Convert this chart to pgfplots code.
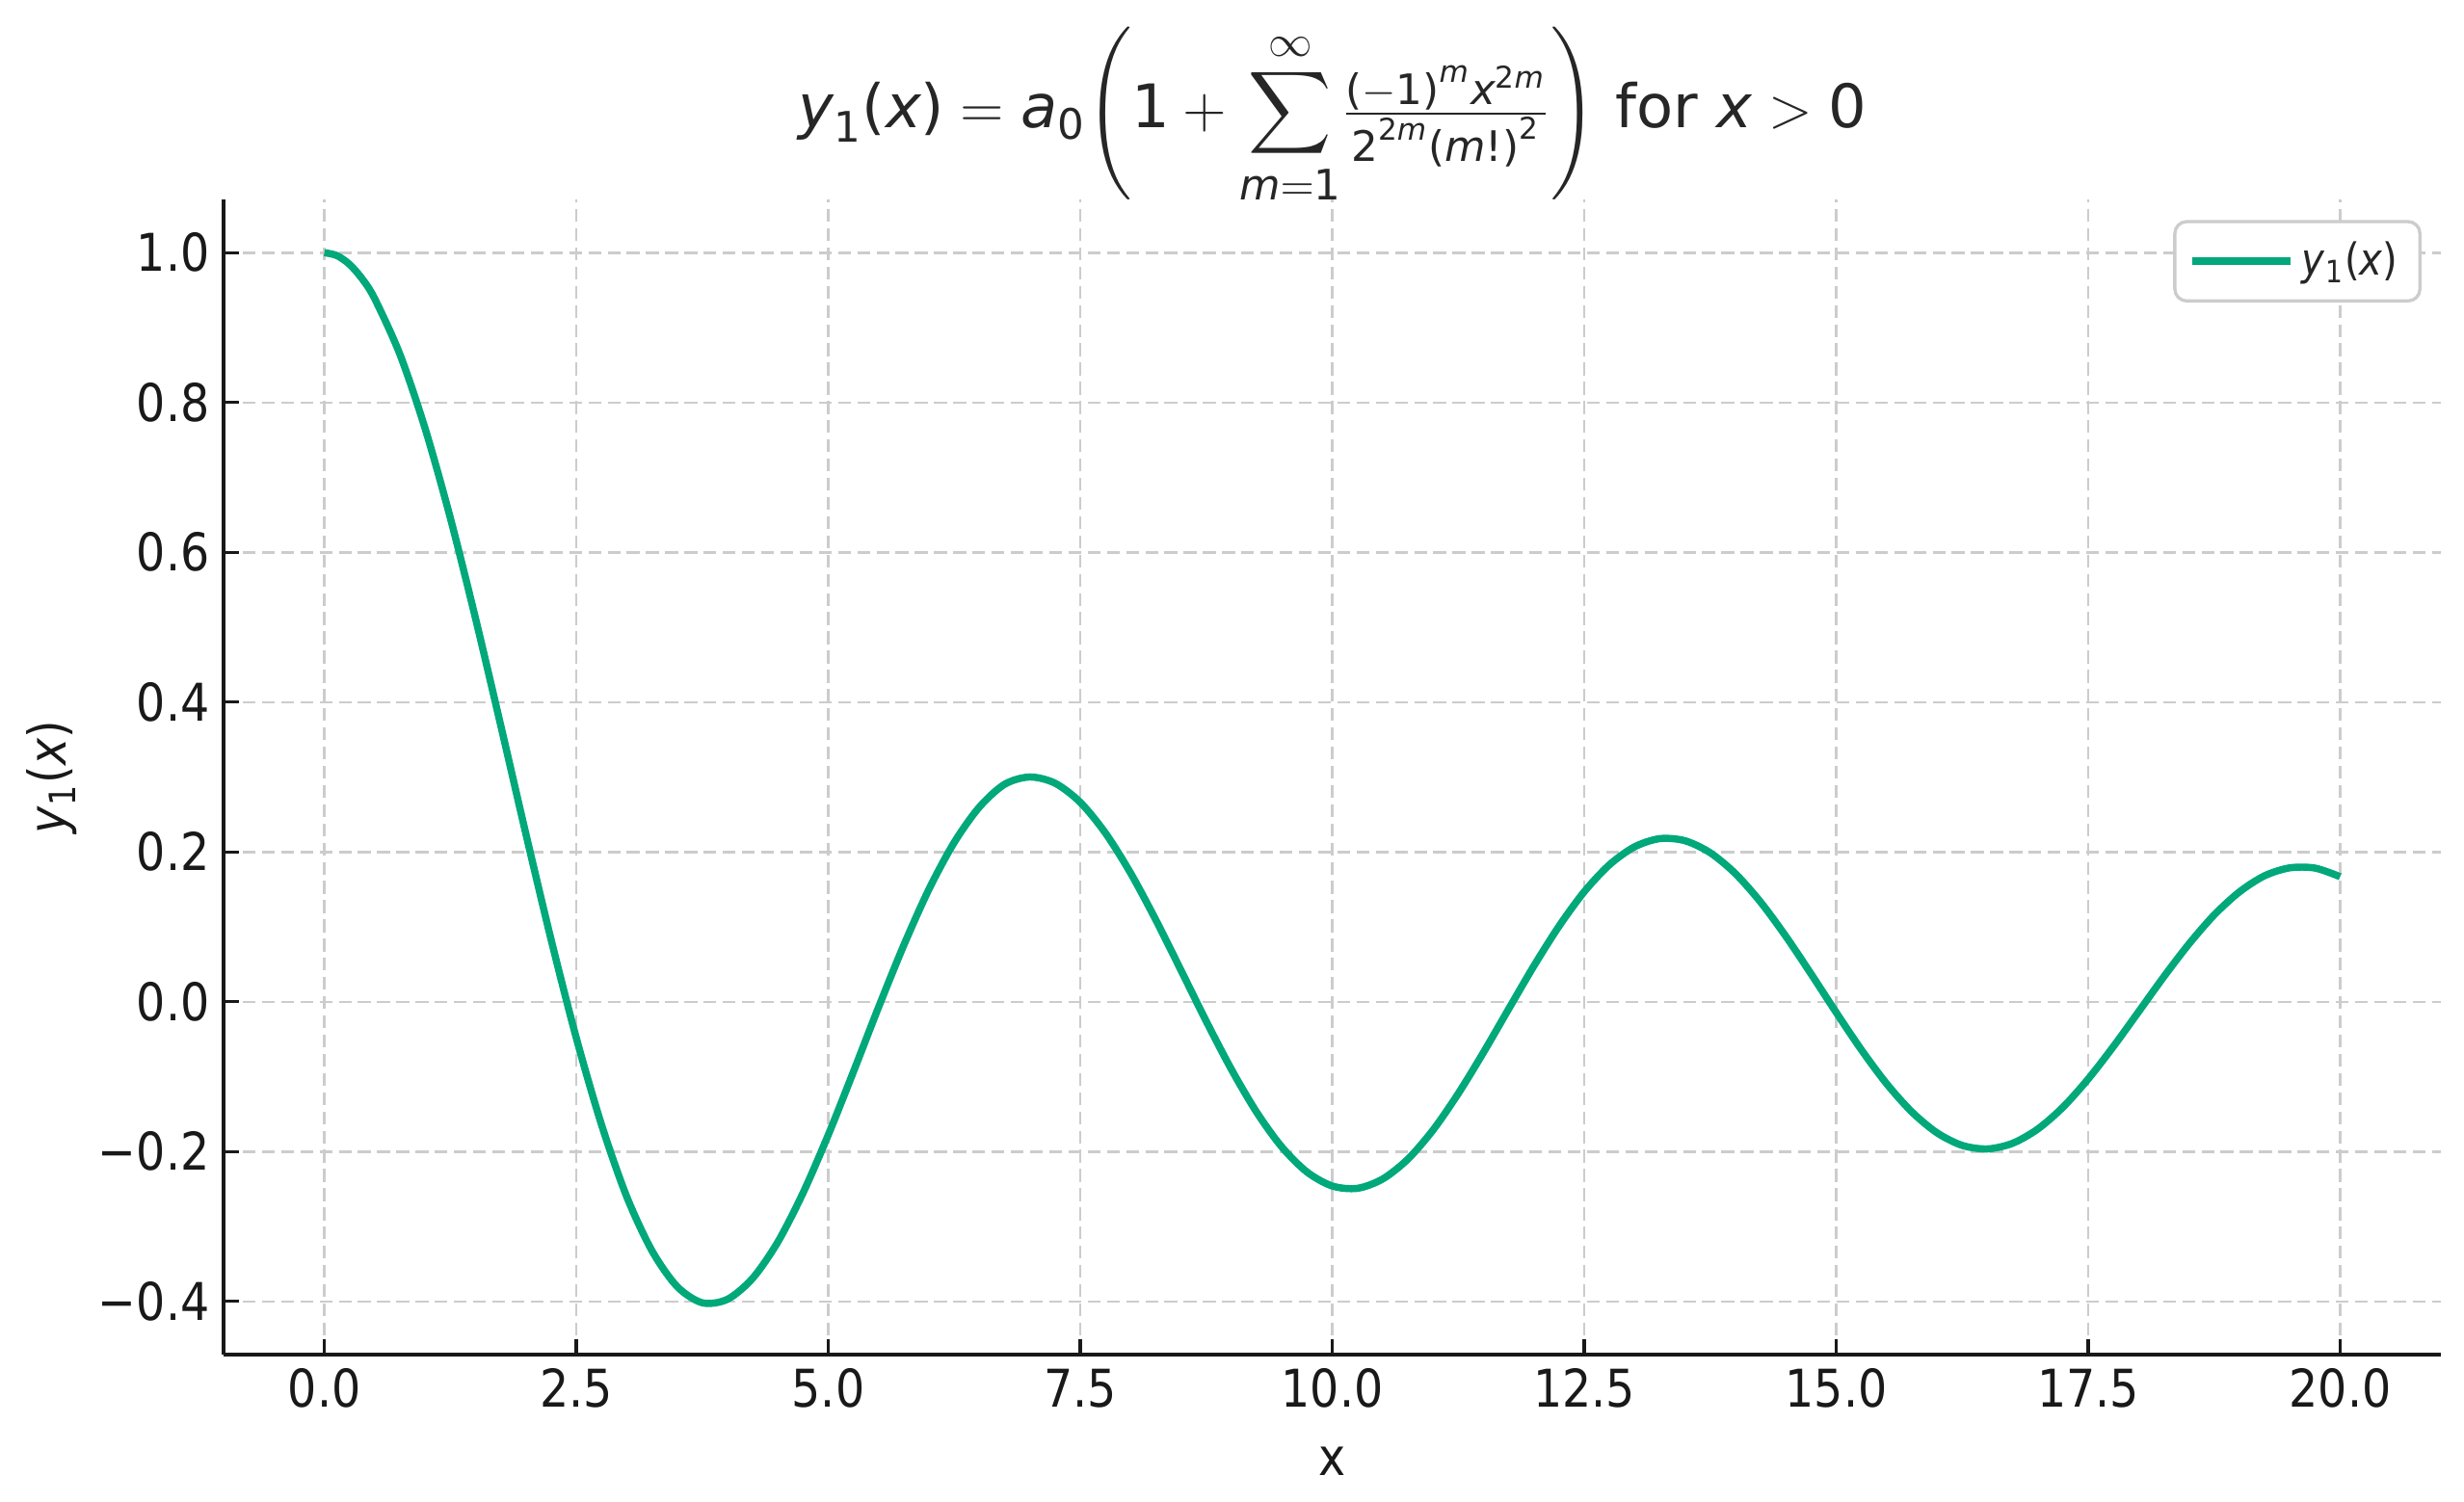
\documentclass[border=0pt]{standalone}
\usepackage{amsmath}
\usepackage{fontspec}
\setmainfont{DejaVu Sans}[FakeStretch=0.88]
\newfontfamily\titlefont{DejaVu Sans}
\usepackage{pgfplots}
\pgfplotsset{compat=1.18}
\definecolor{curve}{RGB}{0,168,122}
\definecolor{gridgray}{RGB}{204,204,204}
\newcommand{\ti}[1]{\text{\titlefont\itshape #1}}
\newcommand{\tu}[1]{\text{\titlefont #1}}

\pgfplotstableread{
x y
0 1.0000
0.125 0.9961
0.25 0.9844
0.375 0.9652
0.5 0.9385
0.75 0.8642
1 0.7652
1.25 0.6459
1.5 0.5118
1.75 0.3690
2 0.2239
2.25 0.0829
2.5 -0.0484
2.75 -0.1641
3 -0.2601
3.25 -0.3322
3.5 -0.3801
3.75 -0.4018
4 -0.3971
4.25 -0.3690
4.5 -0.3205
4.75 -0.2550
5 -0.1776
5.25 -0.0932
5.5 -0.0068
5.75 0.0758
6 0.1506
6.25 0.2129
6.5 0.2601
6.75 0.2904
7 0.3001
7.25 0.2918
7.5 0.2663
7.75 0.2252
8 0.1717
8.25 0.1092
8.5 0.0419
8.75 -0.0260
9 -0.0903
9.25 -0.1474
9.5 -0.1939
9.75 -0.2273
10 -0.2459
10.25 -0.2490
10.5 -0.2366
10.75 -0.2101
11 -0.1712
11.25 -0.1226
11.5 -0.0677
11.75 -0.0097
12 0.0477
12.25 0.1009
12.5 0.1469
12.75 0.1829
13 0.2069
13.25 0.2178
13.5 0.2150
13.75 0.1990
14 0.1711
14.25 0.1331
14.5 0.0875
14.75 0.0374
15 -0.0142
15.25 -0.0641
15.5 -0.1093
15.75 -0.1469
16 -0.1749
16.25 -0.1917
16.5 -0.1964
16.75 -0.1889
17 -0.1699
17.25 -0.1407
17.5 -0.1031
17.75 -0.0598
18 -0.0134
18.25 0.0333
18.5 0.0772
18.75 0.1159
19 0.1466
19.25 0.1682
19.5 0.1788
19.75 0.1785
20 0.1670
}\besseltable

\begin{document}
\begin{tikzpicture}
\begin{axis}[
  scale only axis,
  width=194.8mm, height=101.5mm,
  xmin=-1, xmax=21,
  ymin=-0.471, ymax=1.071,
  axis x line*=bottom,
  axis y line*=left,
  axis line style={-, line width=0.8pt, black!90},
  tick align=inside,
  major tick length=1.35mm,
  tick style={line width=0.8pt, black!90},
  xtick={0,2.5,5,7.5,10,12.5,15,17.5,20},
  xticklabels={0.0,2.5,5.0,7.5,10.0,12.5,15.0,17.5,20.0},
  ytick={-0.4,-0.2,0,0.2,0.4,0.6,0.8,1.0},
  yticklabels={−0.4,−0.2,0.0,0.2,0.4,0.6,0.8,1.0},
  ticklabel style={font=\fontsize{13}{15}\selectfont, text=black!90},
  grid=major,
  major grid style={gridgray, line width=0.6pt, dash pattern=on 3.2pt off 1.6pt},
  xlabel={x},
  xlabel style={at={(axis description cs:0.5,0)}, anchor=center, yshift=-9.4mm,
    font=\fontsize{13}{15}\selectfont, text=black!90},
  ylabel={\textit{y}\textsubscript{1}(\textit{x})},
  ylabel style={at={(axis description cs:0,0.5)}, anchor=center,
    yshift=15.1mm, font=\fontsize{13}{15}\selectfont, text=black!90},
  title={$\ti{y}_{\tu{1}}\tu{(}\ti{x}\tu{)} = \ti{a}_{\tu{0}}\Biggl(\tu{1} +
    {\displaystyle\sum_{\ti{m}=\tu{1}}^{\infty}}
    \frac{\tu{(}-\tu{1}\tu{)}^{\ti{m}}\ti{x}^{\tu{2}\ti{m}}}{\tu{2}^{\tu{2}\ti{m}}\tu{(}\ti{m}\tu{!)}^{\tu{2}}}\Biggr)$
    for $\ti{x} > \tu{0}$},
  title style={at={(axis description cs:0.5,1)}, anchor=center, yshift=5.2mm,
    inner sep=0pt, font=\titlefont\fontsize{15}{18}\selectfont, text=black!85},
  legend style={at={(1,1)}, anchor=north east, xshift=-1.7mm, yshift=-1.8mm,
    draw=black!20, line width=0.8pt, rounded corners=3pt,
    font=\fontsize{11}{13}\selectfont, text=black!85,
    inner xsep=3.5pt, inner ysep=3pt},
  legend cell align=left,
  legend image code/.code={\draw[#1] (0mm,0mm) -- (7.2mm,0mm); \path (0mm,0mm) -- (8.6mm,0mm);},
]
\addplot[color=curve, line width=1.8pt, smooth] table[x=x, y=y] {\besseltable};
\addlegendentry{\textit{y}\textsubscript{1}(\textit{x})}
\coordinate (bl) at (rel axis cs:0,0);
\coordinate (tr) at (rel axis cs:1,1);
\end{axis}
\pgfresetboundingbox
\path ([shift={(-19.64mm,-12.87mm)}]bl) rectangle ([shift={(2.03mm,17.53mm)}]tr);
\end{tikzpicture}
\end{document}
